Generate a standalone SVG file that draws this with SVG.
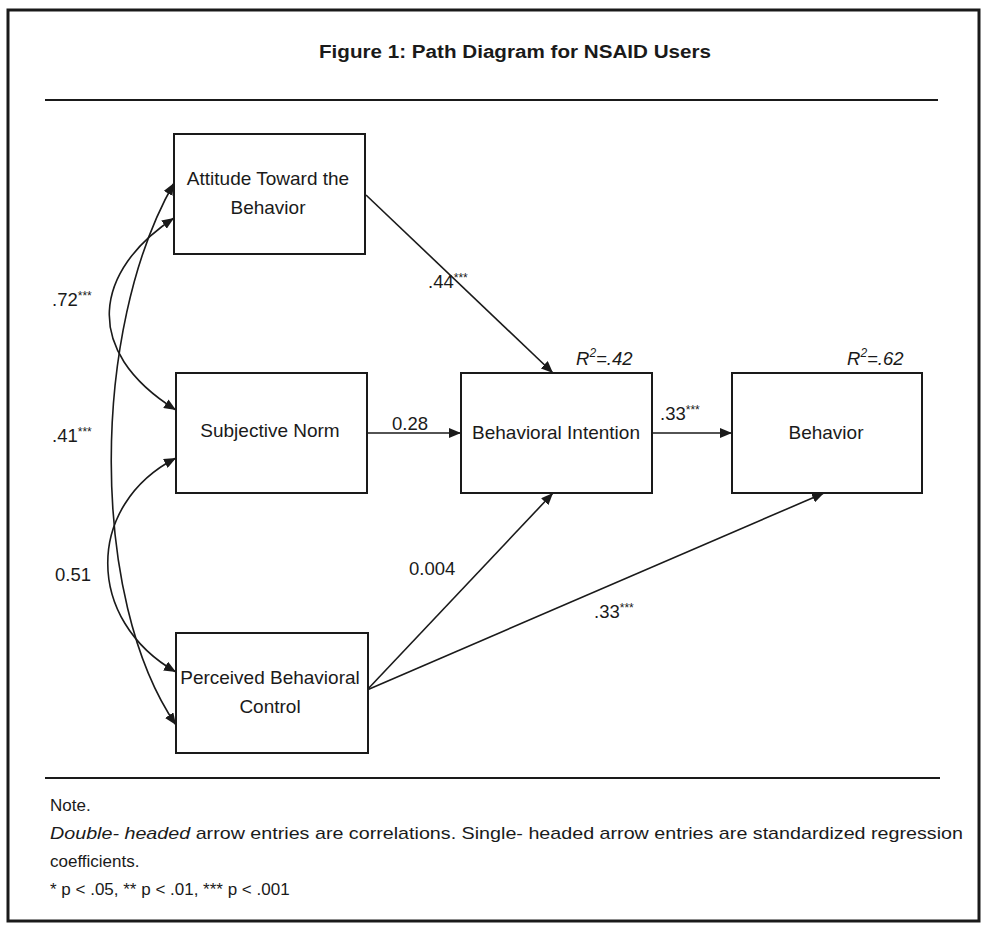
<svg xmlns="http://www.w3.org/2000/svg" width="986" height="925" viewBox="0 0 986 925">
<defs>
<style>
text{font-family:"Liberation Sans",Arial,sans-serif;fill:#1a1a1a}
.box{fill:#fff;stroke:#1a1a1a;stroke-width:2}
.nt{font-size:19px;text-anchor:middle}
.lb{font-size:18.5px}
.sup{font-size:12px}
.ln{fill:none;stroke:#1a1a1a;stroke-width:1.6}
.note{font-size:17px}
</style>
<marker id="ah" viewBox="0 0 12 10" refX="12" refY="5" markerWidth="12" markerHeight="10" markerUnits="userSpaceOnUse" orient="auto-start-reverse">
<path d="M0,0 L12,5 L0,10 z" fill="#1a1a1a"/>
</marker>
</defs>
<rect x="0" y="0" width="986" height="925" fill="#fff"/>
<rect x="8" y="10" width="971" height="911" fill="none" stroke="#1a1a1a" stroke-width="3"/>
<text x="515" y="58" font-size="18" font-weight="bold" text-anchor="middle" textLength="392" lengthAdjust="spacingAndGlyphs">Figure 1: Path Diagram for NSAID Users</text>
<line x1="45" y1="100" x2="938" y2="100" stroke="#1a1a1a" stroke-width="2"/>

<g id="connectors">
<path class="ln" d="M174,218 C95,270 80,350 176,410" marker-start="url(#ah)" marker-end="url(#ah)"/>
<path class="ln" d="M174,183 C90,330 90,600 176,725" marker-start="url(#ah)" marker-end="url(#ah)"/>
<path class="ln" d="M176,458 C85,505 85,620 176,672" marker-start="url(#ah)" marker-end="url(#ah)"/>
<line class="ln" x1="366" y1="195" x2="553" y2="373" marker-end="url(#ah)"/>
<line class="ln" x1="367" y1="433" x2="461" y2="433" marker-end="url(#ah)"/>
<line class="ln" x1="652" y1="433" x2="732" y2="433" marker-end="url(#ah)"/>
<line class="ln" x1="367" y1="690" x2="553" y2="493" marker-end="url(#ah)"/>
<line class="ln" x1="367" y1="690" x2="824" y2="493" marker-end="url(#ah)"/>
</g>

<g id="n-attitude">
<rect class="box" x="174" y="134" width="191" height="120"/>
<text class="nt" x="268" y="185">Attitude Toward the</text>
<text class="nt" x="268" y="214">Behavior</text>
</g>
<g id="n-subjective">
<rect class="box" x="176" y="373" width="191" height="120"/>
<text class="nt" x="270" y="437">Subjective Norm</text>
</g>
<g id="n-pbc">
<rect class="box" x="176" y="633" width="192" height="120"/>
<text class="nt" x="270" y="684">Perceived Behavioral</text>
<text class="nt" x="270" y="713">Control</text>
</g>
<g id="n-intention">
<rect class="box" x="461" y="373" width="191" height="120"/>
<text class="nt" x="556" y="439">Behavioral Intention</text>
</g>
<g id="n-behavior">
<rect class="box" x="732" y="373" width="190" height="120"/>
<text class="nt" x="826" y="439">Behavior</text>
</g>

<g id="labels">
<text class="lb" x="52" y="306">.72<tspan class="sup" dy="-6">***</tspan></text>
<text class="lb" x="52" y="442">.41<tspan class="sup" dy="-6">***</tspan></text>
<text class="lb" x="55" y="581">0.51</text>
<text class="lb" x="428" y="288">.44<tspan class="sup" dy="-6">***</tspan></text>
<text class="lb" x="392" y="430">0.28</text>
<text class="lb" x="660" y="420">.33<tspan class="sup" dy="-6">***</tspan></text>
<text class="lb" x="409" y="575">0.004</text>
<text class="lb" x="594" y="618">.33<tspan class="sup" dy="-6">***</tspan></text>
<text class="lb" x="576" y="365" font-style="italic">R<tspan class="sup" dy="-8">2</tspan><tspan dy="8">=.42</tspan></text>
<text class="lb" x="847" y="365" font-style="italic">R<tspan class="sup" dy="-8">2</tspan><tspan dy="8">=.62</tspan></text>
</g>

<line x1="45" y1="778" x2="940" y2="778" stroke="#1a1a1a" stroke-width="2"/>
<text class="note" x="50" y="811">Note.</text>
<text class="note" x="50" y="839" textLength="913" lengthAdjust="spacingAndGlyphs"><tspan font-style="italic">Double- headed</tspan> arrow entries are correlations. Single- headed arrow entries are standardized regression</text>
<text class="note" x="50" y="867">coefficients.</text>
<text class="note" x="50" y="895">* p &lt; .05,  ** p &lt; .01, *** p &lt; .001</text>
</svg>
